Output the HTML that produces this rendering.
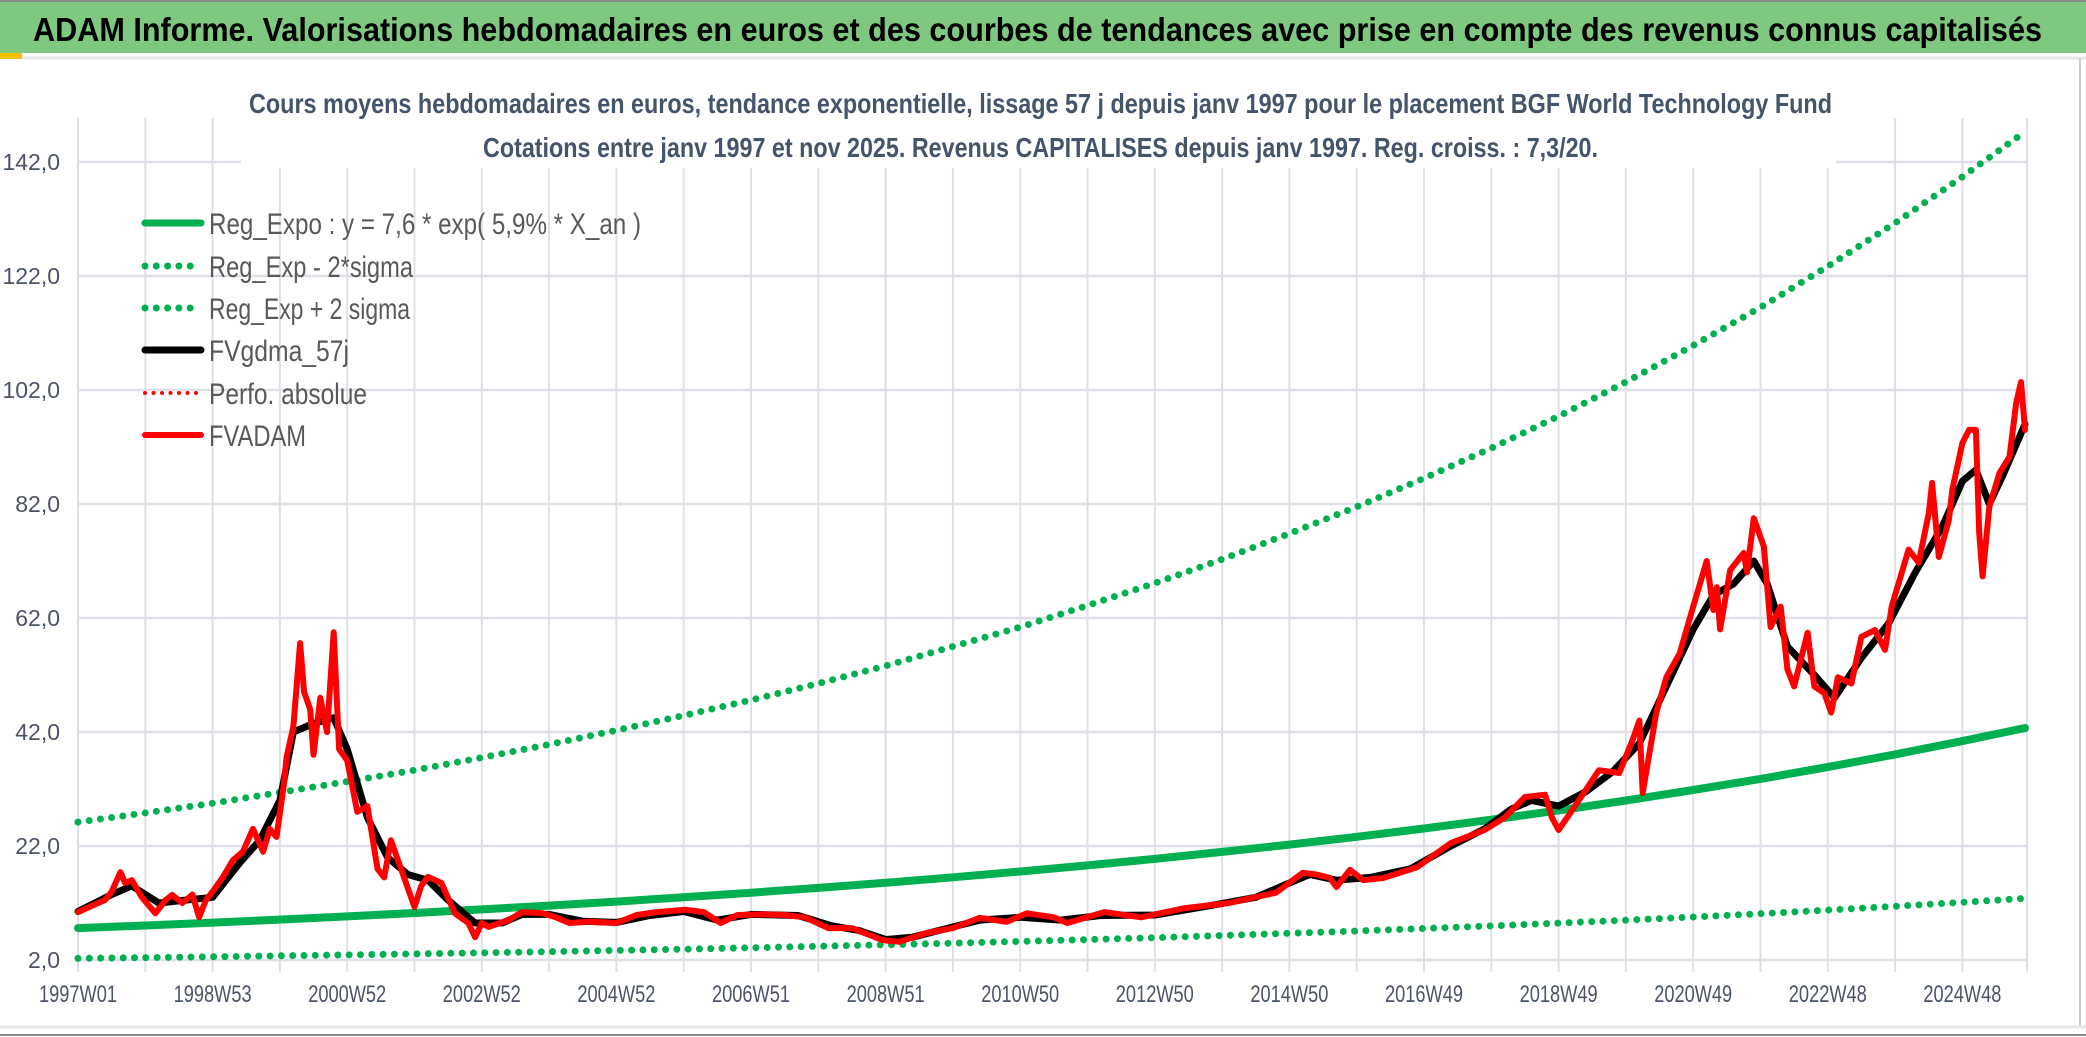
<!DOCTYPE html>
<html><head><meta charset="utf-8"><title>ADAM Informe</title>
<style>
html,body{margin:0;padding:0;background:#fff;}
svg{display:block;font-family:"Liberation Sans Narrow","Liberation Sans",sans-serif;}
</style></head>
<body>
<svg id="chart" width="2086" height="1037" viewBox="0 0 2086 1037" xmlns="http://www.w3.org/2000/svg">
  <rect x="0" y="0" width="2086" height="1037" fill="#fff"/>
  <rect x="0" y="0" width="2086" height="53" fill="#7ec87f"/>
  <line x1="0" y1="1" x2="2086" y2="1" stroke="#8a8a8a" stroke-width="2"/>
  <rect x="0" y="53" width="22" height="6" fill="#f5c000"/>
  <line x1="22" y1="58" x2="2086" y2="58" stroke="#e4e6ea" stroke-width="3"/>
  <text x="33" y="41" font-size="33" font-weight="bold" fill="#000" textLength="2009" lengthAdjust="spacingAndGlyphs">ADAM Informe. Valorisations hebdomadaires en euros et des courbes de tendances avec prise en compte des revenus connus capitalisés</text>
  <line x1="2080" y1="58" x2="2080" y2="1026" stroke="#c8cbd0" stroke-width="2"/>
  <line x1="0" y1="1027" x2="2086" y2="1027" stroke="#e4e6ea" stroke-width="3"/>
  <line x1="0" y1="1035" x2="2086" y2="1035" stroke="#8a8a8a" stroke-width="2"/>
  <g id="grid"></g>
  <rect x="241" y="60" width="1595" height="108" fill="#fff"/>
  <text x="249" y="113" font-size="28" font-weight="bold" fill="#44546a" textLength="1583" lengthAdjust="spacingAndGlyphs">Cours moyens hebdomadaires en euros, tendance exponentielle, lissage 57 j depuis janv 1997 pour le placement BGF World Technology Fund</text>
  <text x="483" y="157" font-size="28" font-weight="bold" fill="#44546a" textLength="1115" lengthAdjust="spacingAndGlyphs">Cotations entre janv 1997 et nov 2025. Revenus CAPITALISES depuis janv 1997. Reg. croiss. : 7,3/20.</text>
  <g id="axes"></g>
  <g id="series"></g>
  <g id="legend"></g>
</svg>
<script>
// ---- data (time in years since 1997W01) ----
const yTicks = [2, 22, 42, 62, 82, 102, 122, 142];
const yTickLabels = ["2,0", "22,0", "42,0", "62,0", "82,0", "102,0", "122,0", "142,0"];
const xLabelWeeks = [0, 104, 208, 312, 416, 520, 624, 728, 832, 936, 1040, 1144, 1248, 1352, 1456];
const xLabels = ["1997W01","1998W53","2000W52","2002W52","2004W52","2006W51","2008W51","2010W50","2012W50","2014W50","2016W49","2018W49","2020W49","2022W48","2024W48"];
const regT = [0,1,2,3,4,5,6,7,8,9,10,11,12,13,14,15,16,17,18,19,20,21,22,23,24,25,26,27,28,28.93];
const regV = [7.6,8.06,8.56,9.09,9.65,10.24,10.87,11.54,12.25,13.0,13.8,14.65,15.55,16.51,17.52,18.6,19.74,20.96,22.25,23.61,25.07,26.61,28.24,29.98,31.83,33.78,35.86,38.07,40.41,42.7];
const lowV = [2.28,2.42,2.57,2.73,2.9,3.07,3.26,3.46,3.68,3.9,4.14,4.4,4.67,4.95,5.26,5.58,5.92,6.29,6.68,7.08,7.52,7.98,8.47,8.99,9.55,10.13,10.76,11.42,12.12,12.81];
const highV = [26.2,27.8,29.5,31.4,33.3,35.3,37.5,39.8,42.3,44.9,47.6,50.5,53.6,57,60.4,64.2,68.1,72.3,76.8,81.5,86.5,91.8,97.4,103.4,109.8,116.5,123.7,131.3,139.4,147.3];
const smoothT = [0,0.5,0.8,1.2,1.6,2.0,2.4,2.7,3.0,3.2,3.5,3.8,4.0,4.3,4.6,4.9,5.2,5.5,5.9,6.3,6.6,7.0,7.5,8.0,8.5,9.0,9.5,10,10.7,11.2,11.6,12.0,12.4,12.9,13.4,14.0,14.6,15.2,16,16.8,17.5,18,18.3,18.7,19.2,19.8,20.4,20.9,21.3,21.6,22.0,22.4,22.8,23.2,23.6,24.0,24.3,24.6,24.9,25.1,25.4,25.8,26.1,26.5,26.9,27.3,27.7,28.0,28.2,28.4,28.6,28.93];
const smoothV = [10.5,13.5,15,12,12.5,13,19,23,30,42,43.5,44.5,39,27,20,17,16,12.5,8.5,8.5,10,10,8.8,8.6,9.8,10.5,9,10,9.8,8,7.2,5.6,6,7.5,9,9.5,9,9.8,9.9,11.5,13,15.5,17,16,16.5,18,22,25,28.5,30,29,31.5,35,40,50,60,66,68,72,68,57,52,48,55,61,70,78,86,88,82,87,96];
const redT = [0,0.2,0.4,0.5,0.63,0.7,0.8,0.95,1.15,1.3,1.4,1.55,1.7,1.8,1.9,2.0,2.15,2.3,2.45,2.6,2.75,2.85,2.95,3.05,3.1,3.2,3.3,3.36,3.45,3.5,3.6,3.7,3.8,3.88,4.0,4.15,4.3,4.45,4.55,4.65,4.8,5.0,5.1,5.2,5.4,5.6,5.8,5.9,6.0,6.1,6.4,6.6,6.9,7.1,7.3,7.6,8.0,8.3,8.6,9.03,9.3,9.55,9.8,10.2,10.5,10.8,11.15,11.5,11.95,12.2,12.6,13.0,13.4,13.8,14.1,14.5,14.7,15.25,15.8,16.45,17.1,17.8,18.2,18.4,18.6,18.7,18.9,19.1,19.4,19.9,20.4,20.9,21.2,21.5,21.8,21.9,22.0,22.3,22.6,22.9,23.1,23.2,23.25,23.45,23.6,23.8,24.0,24.2,24.3,24.35,24.4,24.55,24.75,24.8,24.9,25.05,25.15,25.3,25.4,25.5,25.7,25.8,25.95,26.05,26.15,26.35,26.5,26.7,26.85,26.95,27.2,27.35,27.5,27.55,27.65,27.8,27.85,28.0,28.1,28.2,28.25,28.3,28.4,28.55,28.7,28.8,28.87,28.93];
const redV = [10.4,11.5,12.5,14,17.4,15.5,16,13,10.2,12.5,13.4,12,13.5,9.5,12.5,14,16.5,19.5,21,25,21,25,23.6,32,37.6,43,57.6,49,46,38,48,42,59.5,39,37,28,29,18,16.5,23,18,11.3,15,16.6,15.5,10.2,8.5,6,8.5,7.8,9,10.4,10.2,9.5,8.5,8.7,8.5,9.9,10.4,10.8,10.4,8.5,9.9,10,9.9,9.5,7.6,7.6,5.5,5.2,6.7,7.6,9.4,8.7,10.2,9.5,8.5,10.4,9.5,11.1,12,13.8,17.3,17,16.4,14.8,17.8,16,16.4,18.3,22.5,24.8,27,30.6,31,27,24.8,30,35.3,34.8,40.6,44,31.3,45.3,51.6,55.8,64,72,63.4,67.4,60,70.4,73.4,70,79.5,74.5,60.4,64,53,50,59.4,50,48.8,45.4,51.6,50.5,58.7,59.9,56.4,64,74,71.7,80.4,85.7,72.7,79.2,84.5,92.7,95,95,77,69.3,81.5,87.4,90.3,99.7,103.4,95];

// ---- scales ----
const X0 = 78, PX_PER_YEAR = 67.3, PX_PER_WEEK = 67.3 / 52;
const Y0 = 960, PX_PER_UNIT = 5.7;
function xT(t){ return X0 + t * PX_PER_YEAR; }
function xW(w){ return X0 + w * PX_PER_WEEK; }
function yV(v){ return Y0 - (v - 2) * PX_PER_UNIT; }
const NS = "http://www.w3.org/2000/svg";
function mk(tag, parent){ const e = document.createElementNS(NS, tag); parent.appendChild(e); return e; }

// grid
const grid = document.getElementById('grid');
for (let i = 0; i < yTicks.length; i++) {
  const l = mk('line', grid);
  
  
  l.setAttribute('x1', X0); l.setAttribute('x2', 2028);
  l.setAttribute('y1', yV(yTicks[i])); l.setAttribute('y2', yV(yTicks[i]));
  l.setAttribute('stroke', '#dde0e6'); l.setAttribute('stroke-width', '2.5');
}
for (let w = 0; w <= 1508; w += 52) {
  const l = mk('line', grid);
  
  
  const x = Math.min(xW(w), 2027);
  l.setAttribute('x1', x); l.setAttribute('x2', x);
  l.setAttribute('y1', 118); l.setAttribute('y2', 972);
  l.setAttribute('stroke', '#dde0e6'); l.setAttribute('stroke-width', '2');
}

// axes labels
const axes = document.getElementById('axes');
for (let i = 0; i < yTicks.length; i++) {
  const t = mk('text', axes);
  
  
  t.setAttribute('x', 60); t.setAttribute('y', yV(yTicks[i]) + 8);
  t.setAttribute('text-anchor', 'end'); t.setAttribute('font-size', '23');
  t.setAttribute('fill', '#4a5468');
  t.textContent = yTickLabels[i];
}
for (let i = 0; i < xLabels.length; i++) {
  const t = mk('text', axes);
  
  
  t.setAttribute('x', xW(xLabelWeeks[i]) - 39); t.setAttribute('y', 1002);
  t.setAttribute('font-size', '24'); t.setAttribute('fill', '#4a5468');
  t.setAttribute('textLength', '78'); t.setAttribute('lengthAdjust', 'spacingAndGlyphs');
  t.textContent = xLabels[i];
}

// series
const series = document.getElementById('series');
function pts(T, V){ return T.map((t, i) => xT(t).toFixed(1) + ',' + yV(V[i]).toFixed(1)).join(' '); }
function poly(name, T, V, color, width, dash){
  const p = mk('polyline', series);
  
  
  p.setAttribute('points', pts(T, V));
  p.setAttribute('fill', 'none'); p.setAttribute('stroke', color);
  p.setAttribute('stroke-width', width);
  p.setAttribute('stroke-linejoin', 'round'); p.setAttribute('stroke-linecap', 'round');
  if (dash) p.setAttribute('stroke-dasharray', dash);
  return p;
}
poly('reg-expo-line', regT, regV, '#00b050', 8);
poly('reg-minus-2sigma-line', regT, lowV, '#00b050', 7, '0 11.3');
poly('reg-plus-2sigma-line', regT, highV, '#00b050', 7, '0 11.3');
poly('fvgdma-57j-line', smoothT, smoothV, '#000', 7);
poly('fvadam-line', redT, redV, '#ff0000', 6);

// legend
const legend = document.getElementById('legend');
const legendItems = [
  ['legend-reg-expo', 'Reg_Expo : y = 7,6 * exp( 5,9% *  X_an )', '#00b050', 7, null, 432],
  ['legend-reg-minus-2sigma', 'Reg_Exp - 2*sigma', '#00b050', 7, '0 11.3', 204],
  ['legend-reg-plus-2sigma', 'Reg_Exp + 2 sigma', '#00b050', 7, '0 11.3', 201],
  ['legend-fvgdma', 'FVgdma_57j', '#000', 7, null, 140],
  ['legend-perfo-absolue', 'Perfo. absolue', '#ff0000', 4, '0 8.5', 158],
  ['legend-fvadam', 'FVADAM', '#ff0000', 6, null, 97]
];
const legendY = [223, 266, 308, 350, 393, 435];
for (let i = 0; i < legendItems.length; i++) {
  const it = legendItems[i];
  const g = mk('g', legend);
  
  
  const l = mk('line', g);
  
  
  l.setAttribute('x1', 145); l.setAttribute('x2', 201);
  l.setAttribute('y1', legendY[i]); l.setAttribute('y2', legendY[i]);
  l.setAttribute('stroke', it[2]); l.setAttribute('stroke-width', it[3]);
  l.setAttribute('stroke-linecap', 'round');
  if (it[4]) l.setAttribute('stroke-dasharray', it[4]);
  const t = mk('text', g);
  
  
  t.setAttribute('x', 209); t.setAttribute('y', legendY[i] + 11);
  t.setAttribute('font-size', '30'); t.setAttribute('fill', '#595959');
  t.setAttribute('textLength', it[5]); t.setAttribute('lengthAdjust', 'spacingAndGlyphs');
  t.textContent = it[1];
}
</script>
</body></html>
